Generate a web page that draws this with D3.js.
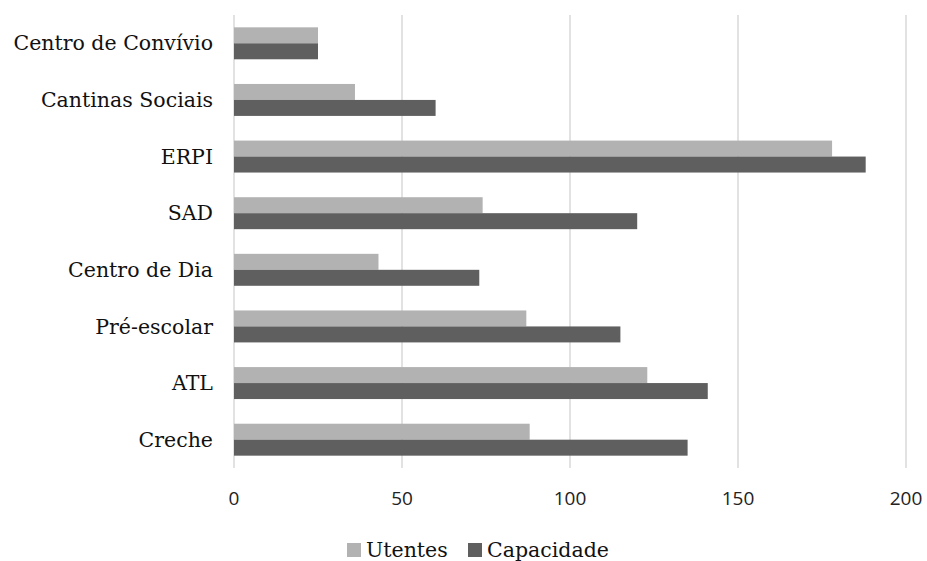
<!DOCTYPE html>
<html>
<head>
<meta charset="utf-8">
<script src="https://cdn.jsdelivr.net/npm/d3@7"></script>
<style>
  body { margin: 0; background: #fff; }
  svg { display: block; }
</style>
</head>
<body>
<svg id="chart" width="927" height="561"></svg>
<script>
// Categories listed top to bottom
const categories = ["Centro de Convívio", "Cantinas Sociais", "ERPI", "SAD", "Centro de Dia", "Pré-escolar", "ATL", "Creche"];
const utentes    = [25, 36, 178, 74, 43, 87, 123, 88];
const capacidade = [25, 60, 188, 120, 73, 115, 141, 135];
const seriesNames = ["Utentes", "Capacidade"];
const seriesColors = ["#b2b2b2", "#5f5f5f"];
const xTicks = [0, 50, 100, 150, 200];

const svg = d3.select("#chart");
const margin = { left: 234, right: 21, top: 15, bottom: 93 };
const W = 927, H = 561;
const labelFont = "'DejaVu Serif', serif";

const x = d3.scaleLinear().domain([0, 200]).range([margin.left, W - margin.right]);
const y = d3.scaleBand().domain(categories)
  .range([margin.top, H - margin.bottom])
  .paddingInner(0.4357).paddingOuter(0.2178);
const ySub = d3.scaleBand().domain(seriesNames).range([0, y.bandwidth()]);

// vertical gridlines
svg.append("g").selectAll("line").data(xTicks).join("line")
  .attr("x1", d => x(d)).attr("x2", d => x(d))
  .attr("y1", margin.top).attr("y2", H - margin.bottom)
  .attr("stroke", "#d9d9d9").attr("stroke-width", 1.5);

// bars
const rows = categories.map((c, i) => ({ cat: c, vals: [utentes[i], capacidade[i]] }));
const g = svg.append("g");
rows.forEach(r => {
  r.vals.forEach((v, j) => {
    g.append("rect")
      .attr("x", x(0))
      .attr("y", y(r.cat) + ySub(seriesNames[j]))
      .attr("width", x(v) - x(0))
      .attr("height", ySub.bandwidth())
      .attr("fill", seriesColors[j]);
  });
});

// category labels
svg.append("g").selectAll("text").data(categories).join("text")
  .attr("x", 213)
  .attr("y", d => y(d) + y.bandwidth() / 2)
  .attr("dy", "0.35em")
  .attr("text-anchor", "end")
  .attr("font-family", labelFont)
  .attr("font-size", 20.5)
  .attr("fill", "#111")
  .text(d => d);

// x tick labels
svg.append("g").selectAll("text").data(xTicks).join("text")
  .attr("x", d => x(d))
  .attr("y", 498)
  .attr("dy", "0.35em")
  .attr("text-anchor", "middle")
  .attr("font-family", "'Open Sans', sans-serif")
  .attr("font-size", 19)
  .attr("fill", "#222")
  .text(d => d);

// legend
const legend = svg.append("g");
const legendX = [347, 468];
seriesNames.forEach((s, j) => {
  legend.append("rect")
    .attr("x", legendX[j]).attr("y", 543)
    .attr("width", 14).attr("height", 14)
    .attr("fill", seriesColors[j]);
  legend.append("text")
    .attr("x", legendX[j] + 19).attr("y", 550)
    .attr("dy", "0.35em")
    .attr("font-family", labelFont)
    .attr("font-size", 20.5)
    .attr("fill", "#111")
    .text(s);
});
</script>
</body>
</html>
